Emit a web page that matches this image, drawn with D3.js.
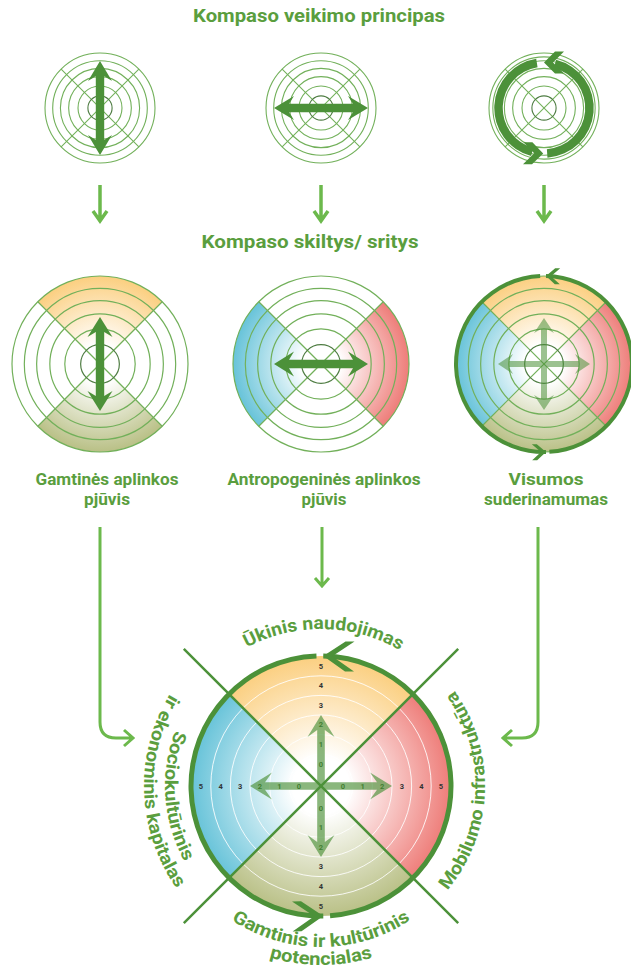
<!DOCTYPE html>
<html lang="lt">
<head>
<meta charset="UTF-8">
<title>Kompaso veikimo principas</title>
<script src="https://cdn.jsdelivr.net/npm/d3@7"></script>
<style>
  body { margin: 0; background: #fff; }
  text { font-family: Roboto, "DejaVu Sans", sans-serif; font-weight: 700; }
</style>
</head>
<body>
<svg width="631" height="972" id="mainsvg"></svg>
<script>
// ---- data ----
const titles = ['Kompaso veikimo principas', 'Kompaso skiltys/ sritys'];
const ringLevels = [1, 0.86, 0.72, 0.57, 0.40, 0.22];      // rings of the small compasses
const sectorNames = ['top', 'right', 'bottom', 'left'];
const sectorColors = ['#fbcf80', '#ee7d79', '#b9c086', '#67c3d9'];
const panelModes = ['vertical', 'horizontal', 'rotation'];
const panelSectors = [['top', 'bottom'], ['left', 'right'], ['top', 'right', 'bottom', 'left']];
const panelLabels = [['Gamtinės aplinkos', 'pjūvis'], ['Antropogeninės aplinkos', 'pjūvis'], ['Visumos', 'suderinamumas']];
const scoreTicks = [0, 1, 2, 3, 4, 5];
const arrowScore = 2;
const domainTop = ['Ūkinis naudojimas'];
const domainRight = ['Mobilumo infrastruktūra'];
const domainBottom = ['Gamtinis ir kultūrinis', 'potencialas'];
const domainLeft = ['Sociokultūrinis', 'ir ekonominis kapitalas'];

// ---- layout ----
const svg = d3.select('#mainsvg');
const defs = svg.append('defs');
const col = [100, 321, 544];
const C = { dark: '#4c9139', text: '#5a9e3e', thin: '#72b05a', inner: '#4f7d43', link: '#6cb94c' };
const deg = Math.PI / 180;
const sectorAngle = { top: -45, right: 45, bottom: 135, left: 225 };
const colorOf = name => sectorColors[sectorNames.indexOf(name)];
const line = d3.line();

function gradient(name, r) {
  const id = `g-${name}-${r}`;
  if (!defs.select('#' + id).empty()) return id;
  const g = defs.append('radialGradient').attr('id', id)
    .attr('gradientUnits', 'userSpaceOnUse').attr('cx', 0).attr('cy', 0).attr('r', r);
  g.append('stop').attr('offset', 0).attr('stop-color', '#fff');
  g.append('stop').attr('offset', 0.22).attr('stop-color', '#fff');
  g.append('stop').attr('offset', 1).attr('stop-color', colorOf(name));
  return id;
}

function sectors(g, r, names) {
  names.forEach(n => {
    const a = sectorAngle[n];
    g.append('path')
      .attr('d', d3.arc()({ innerRadius: 0, outerRadius: r, startAngle: a * deg, endAngle: (a + 90) * deg }))
      .attr('fill', `url(#${gradient(n, r)})`);
  });
}

function doubleArrow(L, sw, hw, hl, notch) {
  const b = L - hl, n = L - hl + notch;
  return line([[L, 0], [b, hw], [n, sw], [-n, sw], [-b, hw], [-L, 0], [-b, -hw], [-n, -sw], [n, -sw], [b, -hw]]) + 'Z';
}
function singleArrow(L, sw, hw, hl, notch) {
  const b = L - hl, n = L - hl + notch;
  return line([[0, -sw], [n, -sw], [b, -hw], [L, 0], [b, hw], [n, sw], [0, sw]]) + 'Z';
}
function chevron(a, b, t) {
  return line([[0, 0], [-a, -b], [-a - t, -b], [-t, 0], [-a - t, b], [-a, b]]) + 'Z';
}
// chevron on a ring at d3 angle th (deg, clockwise from top) pointing counter-clockwise
function ringHead(g, r, th, a, b, t) {
  const x = r * Math.sin(th * deg), y = -r * Math.cos(th * deg);
  const rot = Math.atan2(-Math.sin(th * deg), -Math.cos(th * deg)) / deg;
  g.append('path').attr('d', chevron(a, b, t)).attr('fill', C.dark)
    .attr('transform', `translate(${x},${y}) rotate(${rot})`);
}
function ringArc(g, r, w, a0, a1) {
  g.append('path')
    .attr('d', d3.arc()({ innerRadius: r - w / 2, outerRadius: r + w / 2, startAngle: a0 * deg, endAngle: a1 * deg }))
    .attr('fill', C.dark);
}

function compass(cx, cy, r, mode, names, sw) {
  const g = svg.append('g').attr('transform', `translate(${cx},${cy})`);
  if (names) sectors(g, r, names);
  [45, 135].forEach(a => {
    g.append('line')
      .attr('x1', -r * Math.cos(a * deg)).attr('y1', -r * Math.sin(a * deg))
      .attr('x2', r * Math.cos(a * deg)).attr('y2', r * Math.sin(a * deg))
      .attr('stroke', C.thin).attr('stroke-width', sw);
  });
  const levels = (mode === 'rotation' && !names) ? ringLevels.concat([0.93]) : ringLevels;
  g.selectAll('circle.ring').data(levels).join('circle').attr('class', 'ring')
    .attr('r', d => r * d).attr('fill', 'none')
    .attr('stroke', d => d === ringLevels[ringLevels.length - 1] ? C.inner : C.thin)
    .attr('stroke-width', sw);
  return g;
}

// titles
const titlePos = [[319, 22, 252], [310, 248, 217]];
titles.forEach((t, i) => {
  svg.append('text').attr('x', titlePos[i][0]).attr('y', titlePos[i][1])
    .attr('text-anchor', 'middle').attr('font-size', 17.5).attr('fill', C.text)
    .attr('textLength', titlePos[i][2]).attr('lengthAdjust', 'spacingAndGlyphs').text(t);
});

// top row: working principle
panelModes.forEach((m, i) => {
  const r = 55;
  const g = compass(col[i], 108, r, m, null, 1.1);
  if (m === 'vertical' || m === 'horizontal') {
    g.append('path').attr('d', doubleArrow(47, 4.2, 12, 20, 5)).attr('fill', C.dark)
      .attr('transform', m === 'vertical' ? 'rotate(90)' : null);
  } else {
    const ar = 45.5;
    ringArc(g, ar, 8.5, 14, 176);
    ringArc(g, ar, 8.5, 195, 351);
    ringHead(g, ar, 0, 11, 11, 9);
    ringHead(g, ar, 181, 11, 11, 9);
  }
});

// small down arrows
col.forEach(x => {
  svg.append('path').attr('d', `M${x},185V221M${x - 7},211L${x},221L${x + 7},211`)
    .attr('fill', 'none').attr('stroke', C.link).attr('stroke-width', 3.5);
});

// middle row: compass sections
panelModes.forEach((m, i) => {
  const r = 88;
  const g = compass(col[i], 364, r, m, panelSectors[i], 1.2);
  if (m === 'vertical' || m === 'horizontal') {
    g.append('path').attr('d', doubleArrow(47, 4.2, 12.5, 20, 5)).attr('fill', C.dark)
      .attr('transform', m === 'vertical' ? 'rotate(90)' : null);
  } else {
    const ga = g.append('g').attr('opacity', 0.55);
    [0, 90, 180, 270].forEach(a => ga.append('path')
      .attr('d', singleArrow(46, 3, 10, 15, 4)).attr('fill', C.dark).attr('transform', `rotate(${a})`));
    ringArc(g, r, 4, 1.3, 176.5);
    ringArc(g, r, 4, 178.7, 357.5);
    ringHead(g, r, 1.3, 9, 8, 5);
    ringHead(g, r, 178.7, 9, 8, 5);
  }
});

// middle labels
const labelX = [107, 324, 546];
const labelW = [[143, 46], [193, 45], [75, 124]];
panelLabels.forEach((ls, i) => {
  ls.forEach((t, j) => {
    svg.append('text').attr('x', labelX[i]).attr('y', 485 + j * 20)
      .attr('text-anchor', 'middle').attr('font-size', 16.5).attr('fill', C.text)
      .attr('textLength', labelW[i][j]).attr('lengthAdjust', 'spacingAndGlyphs').text(t);
  });
});

// connectors to the big compass
svg.append('g').attr('fill', 'none').attr('stroke', C.link).attr('stroke-width', 3)
  .selectAll('path').data([
    'M100,527V722Q100,738 116,738H132M124,730L133,738L124,746',
    'M322,527V586M315,578L322,586L329,578',
    'M538,527V722Q538,738 522,738H504M512,730L503,738L512,746'
  ]).join('path').attr('d', d => d);

// ---- big compass ----
const R = 130;
const big = svg.append('g').attr('transform', 'translate(321,786)');
const rScale = d3.scaleLinear().domain([0, 5]).range([22, 120]);
sectors(big, R, sectorNames);
big.selectAll('circle.band').data(scoreTicks.slice(0, 5)).join('circle').attr('class', 'band')
  .attr('r', d => rScale(d + 0.5)).attr('fill', 'none')
  .attr('stroke', '#fff').attr('stroke-opacity', 0.85).attr('stroke-width', 1);
[45, 135].forEach(a => {
  big.append('line')
    .attr('x1', -194 * Math.cos(a * deg)).attr('y1', -194 * Math.sin(a * deg))
    .attr('x2', 194 * Math.cos(a * deg)).attr('y2', 194 * Math.sin(a * deg))
    .attr('stroke', C.dark).attr('stroke-width', 2.5);
});
// score numbers
const axisDir = [[0, -1], [1, 0], [0, 1], [-1, 0]];
axisDir.forEach(([dx, dy]) => {
  big.append('g').selectAll('text').data(scoreTicks).join('text')
    .attr('x', d => dx * rScale(d)).attr('y', d => dy * rScale(d))
    .attr('text-anchor', 'middle').attr('dominant-baseline', 'central')
    .attr('font-size', 7.5).attr('font-weight', 600)
    .attr('fill', d => d <= arrowScore ? '#2f5a24' : '#333')
    .text(d => d);
});
const bigArrows = big.append('g').attr('opacity', 0.65);
[0, 90, 180, 270].forEach(a => bigArrows.append('path')
  .attr('d', singleArrow(rScale(arrowScore + 0.5), 3.8, 13.5, 22, 7))
  .attr('fill', C.dark).attr('transform', `rotate(${a})`));
// outer ring with direction heads
ringArc(big, R, 5, 1, 176);
ringArc(big, R, 5, 179, 358);
ringHead(big, R, 1, 22, 15, 9);
ringHead(big, R, 179, 22, 15, 9);

// curved domain labels
function arcD(r, c, half, sweep) {
  const a0 = (sweep ? c - half : c + half) * deg;
  const a1 = (sweep ? c + half : c - half) * deg;
  return `M${r * Math.cos(a0)},${r * Math.sin(a0)}A${r},${r} 0 0 ${sweep} ${r * Math.cos(a1)},${r * Math.sin(a1)}`;
}
const curved = [
  { text: domainTop[0], r: 157, c: -89, sweep: 1, len: 160 },
  { text: domainRight[0], r: 164, c: 2, sweep: 0, len: 215 },
  { text: domainBottom[0], r: 161, c: 90, sweep: 0, len: 190 },
  { text: domainBottom[1], r: 179, c: 90, sweep: 0, len: 105 },
  { text: domainLeft[0], r: 156, c: 176, sweep: 0, len: 136 },
  { text: domainLeft[1], r: 177, c: 178, sweep: 0, len: 206 }
];
curved.forEach((d, i) => {
  defs.append('path').attr('id', 'lp' + i).attr('d', arcD(d.r, d.c, 85, d.sweep));
  big.append('text').attr('font-size', 18).attr('fill', C.text)
    .append('textPath').attr('href', '#lp' + i).attr('startOffset', '50%')
    .attr('text-anchor', 'middle').attr('textLength', d.len).attr('lengthAdjust', 'spacingAndGlyphs')
    .text(d.text);
});
</script>
</body>
</html>
